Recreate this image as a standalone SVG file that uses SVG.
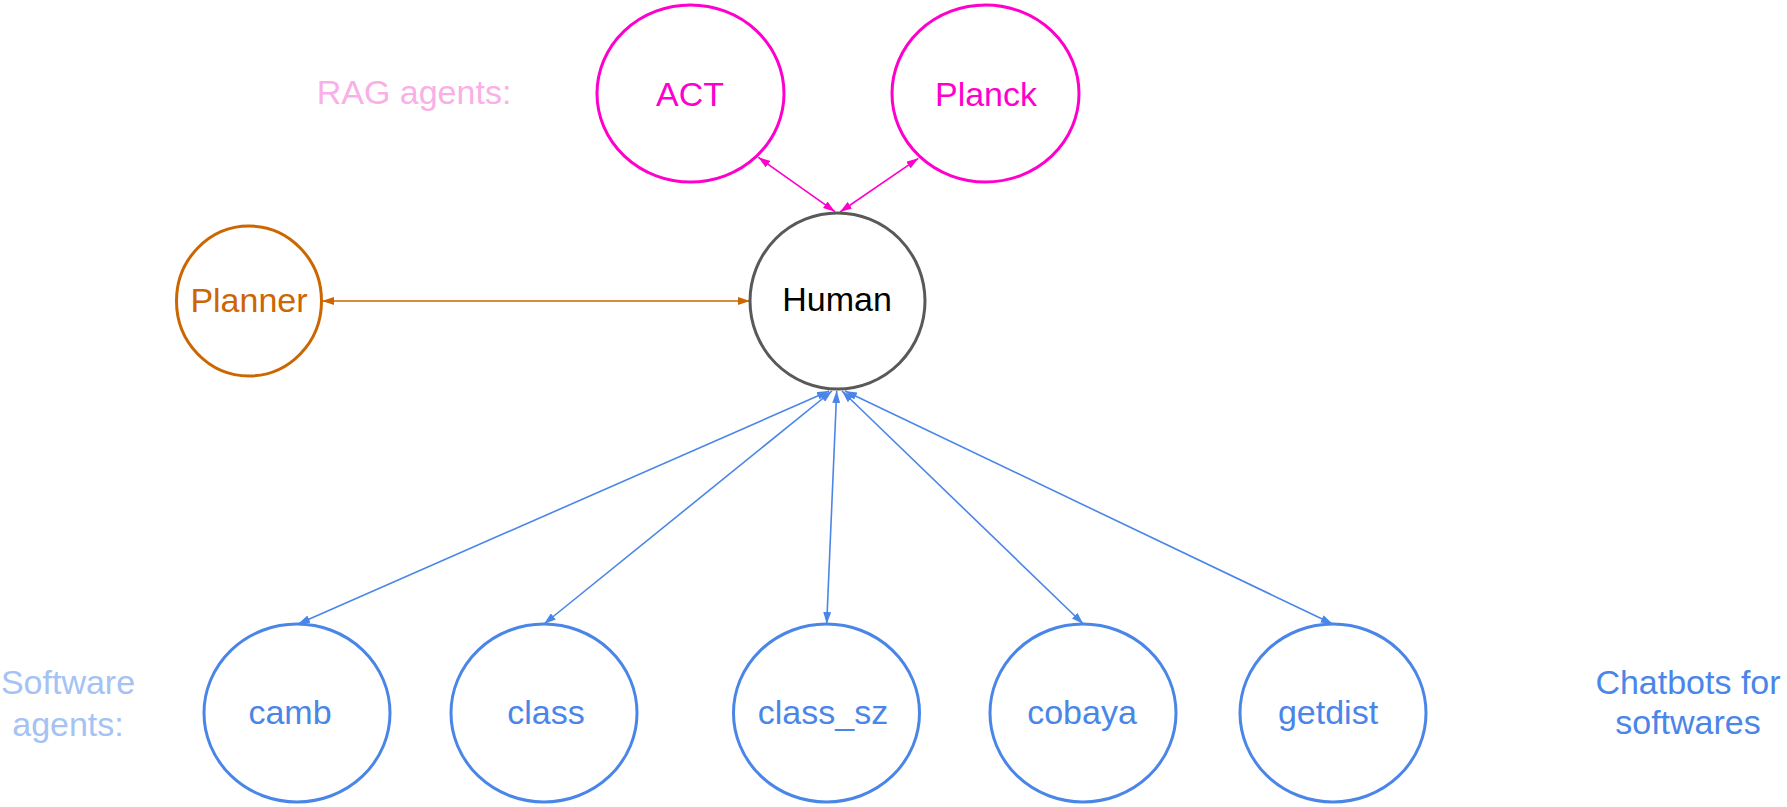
<svg xmlns="http://www.w3.org/2000/svg" width="1787" height="807" viewBox="0 0 1787 807">
<style>
text{font-family:"Liberation Sans",Arial,sans-serif;font-size:34px;text-anchor:middle}
.node{fill:#ffffff;stroke-width:3}
.sw{stroke:#4a86e8}
.swt{fill:#4a86e8}
.rag{stroke:#ff00cc}
.ragt{fill:#ff00cc}
.c-blue{stroke:#4a86e8;stroke-width:1.6;fill:none}
.c-mag{stroke:#ff00cc;stroke-width:1.6;fill:none}
.c-org{stroke:#cc6600;stroke-width:1.6;fill:none}
</style>
<defs>
<marker id="ab" viewBox="0 0 12 8" refX="12" refY="4" markerWidth="12" markerHeight="8" markerUnits="userSpaceOnUse" orient="auto-start-reverse"><path d="M0,0 L12,4 L0,8 z" fill="#4a86e8"/></marker>
<marker id="am" viewBox="0 0 12 8" refX="12" refY="4" markerWidth="12" markerHeight="8" markerUnits="userSpaceOnUse" orient="auto-start-reverse"><path d="M0,0 L12,4 L0,8 z" fill="#ff00cc"/></marker>
<marker id="ao" viewBox="0 0 12 8" refX="12" refY="4" markerWidth="12" markerHeight="8" markerUnits="userSpaceOnUse" orient="auto-start-reverse"><path d="M0,0 L12,4 L0,8 z" fill="#cc6600"/></marker>
</defs>
<rect width="1787" height="807" fill="#ffffff"/>

<g id="labels">
<text x="414" y="104" fill="#f9b0e6">RAG agents:</text>
<text x="68" y="694" fill="#a4c2f4">Software</text>
<text x="68" y="736" fill="#a4c2f4">agents:</text>
<text x="1688" y="694" fill="#4a86e8">Chatbots for</text>
<text x="1688" y="734" fill="#4a86e8">softwares</text>
</g>

<g id="connectors">
<line class="c-mag" x1="758.3" y1="157.3" x2="835" y2="211.7" marker-start="url(#am)" marker-end="url(#am)"/>
<line class="c-mag" x1="918.3" y1="158.3" x2="840" y2="212" marker-start="url(#am)" marker-end="url(#am)"/>
<line class="c-org" x1="322" y1="301" x2="750" y2="301" marker-start="url(#ao)" marker-end="url(#ao)"/>
<line class="c-blue" x1="829" y1="391" x2="298" y2="624" marker-start="url(#ab)" marker-end="url(#ab)"/>
<line class="c-blue" x1="832" y1="391" x2="544" y2="624" marker-start="url(#ab)" marker-end="url(#ab)"/>
<line class="c-blue" x1="836.7" y1="391" x2="826.7" y2="624" marker-start="url(#ab)" marker-end="url(#ab)"/>
<line class="c-blue" x1="842" y1="391" x2="1083.3" y2="624" marker-start="url(#ab)" marker-end="url(#ab)"/>
<line class="c-blue" x1="845" y1="391" x2="1332.7" y2="624" marker-start="url(#ab)" marker-end="url(#ab)"/>
</g>

<g id="act">
<ellipse class="node rag" cx="690.5" cy="93.5" rx="93.5" ry="88.5"/>
<text class="ragt" x="690" y="106">ACT</text>
</g>
<g id="planck">
<ellipse class="node rag" cx="985.5" cy="93.5" rx="93.5" ry="88.5"/>
<text class="ragt" x="986" y="106">Planck</text>
</g>
<g id="planner">
<ellipse class="node" stroke="#cc6600" cx="249" cy="301" rx="72.5" ry="75"/>
<text fill="#cc6600" x="249" y="312">Planner</text>
</g>
<g id="human">
<ellipse class="node" stroke="#595959" cx="837.5" cy="301" rx="87.5" ry="88"/>
<text fill="#000000" x="837" y="311">Human</text>
</g>
<g id="camb">
<ellipse class="node sw" cx="297" cy="713" rx="93" ry="89"/>
<text class="swt" x="290" y="724">camb</text>
</g>
<g id="class">
<ellipse class="node sw" cx="544" cy="713" rx="93" ry="89"/>
<text class="swt" x="546" y="724">class</text>
</g>
<g id="class_sz">
<ellipse class="node sw" cx="826.5" cy="713" rx="93" ry="89"/>
<text class="swt" x="823" y="724">class_sz</text>
</g>
<g id="cobaya">
<ellipse class="node sw" cx="1083" cy="713" rx="93" ry="89"/>
<text class="swt" x="1082" y="724">cobaya</text>
</g>
<g id="getdist">
<ellipse class="node sw" cx="1333" cy="713" rx="93" ry="89"/>
<text class="swt" x="1328" y="724">getdist</text>
</g>
</svg>
